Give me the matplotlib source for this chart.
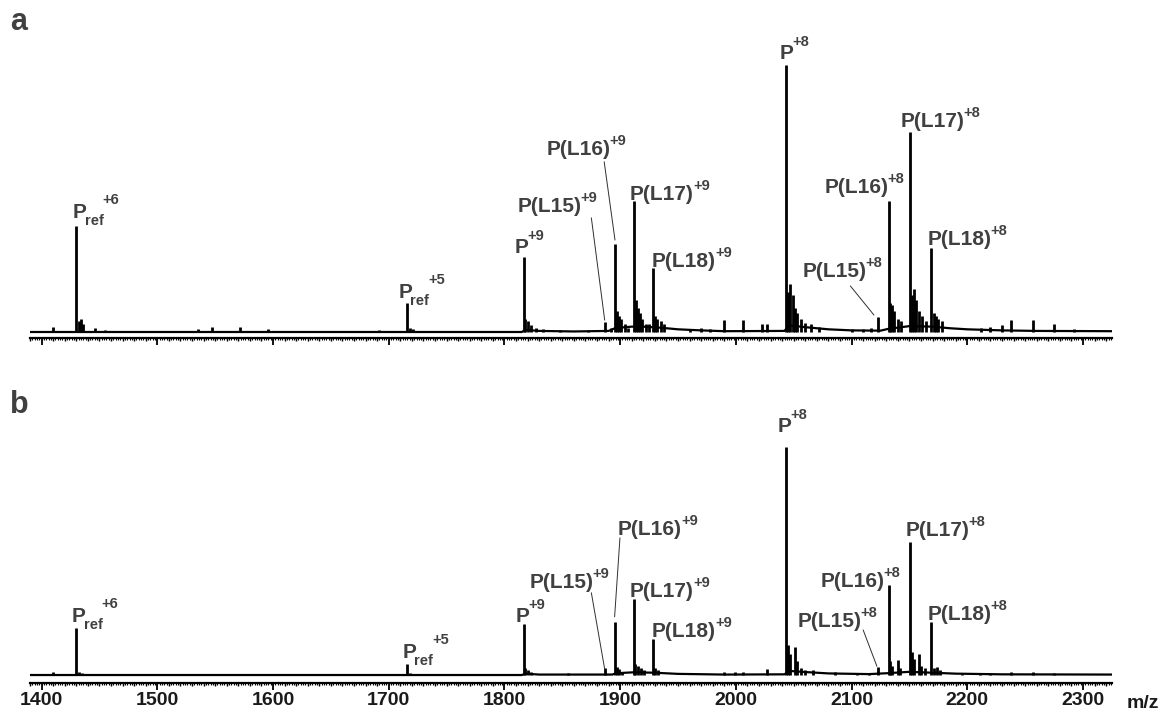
import numpy as np
import matplotlib.pyplot as plt
from matplotlib.ticker import MultipleLocator

plt.rcParams['font.family'] = ['Liberation Sans', 'DejaVu Sans']
plt.rcParams['font.weight'] = 'bold'

# --- panel a: peak list (m/z, relative intensity %) ---
a_mz = [1409.8, 1429.7, 1432, 1434, 1436, 1446, 1455, 1535, 1547.6, 1571.8, 1596, 1692,
        1715.4, 1718, 1721,
        1816.7, 1818, 1820, 1823, 1827, 1833, 1848, 1872,
        1887.1, 1892, 1895.2, 1897, 1899, 1901, 1904, 1907,
        1911.7, 1913.5, 1915, 1917, 1919, 1922, 1924.5,
        1928.1, 1930, 1932, 1935, 1938, 1960, 1970, 1978, 1989.6, 2006, 2022.5, 2027,
        2043.3, 2045, 2047, 2049, 2051, 2053, 2056, 2060, 2065, 2072, 2100, 2110, 2117,
        2122.9, 2131.9, 2133.5, 2135, 2137, 2140, 2143,
        2150.3, 2152, 2154, 2156, 2158, 2161, 2164,
        2168.8, 2171, 2173, 2175, 2178,
        2211.6, 2220, 2229.6, 2238, 2257, 2275, 2292]
a_int = [2.0, 39.7, 4.0, 5.0, 3.0, 1.5, 0.8, 1.2, 2.0, 2.0, 1.3, 0.8,
         10.9, 1.5, 1.2,
         28.1, 5.0, 4.0, 2.5, 1.5, 1.0, 0.6, 0.6,
         3.7, 1.5, 33.0, 8.0, 6.0, 5.0, 3.0, 1.5,
         49.0, 12.0, 9.0, 7.0, 5.0, 3.0, 3.0,
         24.0, 6.0, 5.0, 4.0, 3.0, 1.3, 1.5, 1.2, 4.5, 4.5, 3.0, 3.0,
         100.0, 15.0, 18.0, 14.0, 9.0, 7.0, 5.0, 3.5, 3.0, 2.0, 1.3, 1.3, 1.5,
         5.6, 49.0, 11.0, 10.0, 8.0, 5.0, 4.0,
         75.0, 14.0, 16.0, 12.0, 8.0, 6.0, 4.0,
         31.5, 7.0, 6.0, 5.0, 4.0,
         1.5, 2.0, 2.5, 4.5, 4.5, 3.0, 1.0]
a_base_mz = [1390, 1815, 1818, 1830, 1860, 1890, 1896, 1910, 1920, 1935, 1950, 1970,
             1990, 2042, 2046, 2060, 2080, 2100, 2125, 2132, 2150, 2170, 2185, 2200,
             2230, 2260, 2325]
a_base = [0, 0, 0.8, 0.4, 0.2, 0.4, 1.5, 2.0, 2.0, 1.6, 1.0, 0.6,
          0.3, 0.4, 2.5, 1.8, 1.0, 0.6, 0.5, 1.2, 2.2, 2.0, 1.4, 1.0,
          0.6, 0.4, 0.3]

# --- panel b ---
b_mz = [1409.8, 1429.7, 1432, 1435, 1490, 1548, 1572, 1596, 1637, 1692,
        1715.4, 1718,
        1816.7, 1818, 1820, 1823, 1855,
        1887.1, 1895.2, 1897, 1899, 1902,
        1911.7, 1913, 1915, 1918, 1921,
        1928.1, 1930, 1933, 1990, 1999, 2006, 2027,
        2043.3, 2045, 2047, 2050.7, 2053, 2056, 2060, 2067, 2086, 2105, 2115,
        2122.9, 2131.9, 2133.5, 2135, 2139.7, 2142,
        2150.3, 2152, 2154, 2157.8, 2160, 2163,
        2168.8, 2171, 2173.5, 2176,
        2195, 2211, 2220, 2238, 2257, 2275]
b_int = [1.5, 20.6, 1.5, 1.0, 0.5, 0.6, 0.6, 0.5, 0.5, 0.6,
         4.8, 0.8,
         22.4, 3.0, 2.0, 1.2, 1.0,
         3.0, 23.2, 3.5, 2.5, 1.5,
         33.3, 5.0, 4.0, 3.0, 2.0,
         15.8, 3.0, 2.0, 1.2, 1.2, 1.2, 2.5,
         100.0, 13.0, 9.0, 12.3, 6.0, 3.0, 2.0, 2.0, 1.5, 0.7, 0.8,
         3.5, 39.5, 6.0, 4.0, 6.6, 3.0,
         58.3, 10.0, 7.0, 9.2, 4.0, 3.0,
         23.2, 3.0, 3.5, 2.0,
         0.5, 0.5, 0.5, 1.2, 1.2, 0.8]
b_base_mz = [1390, 1815, 1818, 1830, 1893, 1897, 1912, 1930, 1950, 1990, 2042, 2046, 2060,
             2080, 2115, 2131, 2150, 2170, 2190, 2230, 2325]
b_base = [0, 0, 0.6, 0.2, 0.2, 0.8, 1.2, 1.0, 0.5, 0.2, 0.3, 1.8, 1.3,
          0.7, 0.4, 0.8, 1.4, 1.0, 0.6, 0.3, 0.2]

# --- peak labels: main text, subscript, superscript, position of text baseline (m/z, %) ---
lab_main = ['P', 'P', 'P', 'P(L15)', 'P(L16)', 'P(L17)', 'P(L18)', 'P',
            'P(L15)', 'P(L16)', 'P(L17)', 'P(L18)']
lab_sub = ['ref', 'ref', '', '', '', '', '', '', '', '', '', '']
lab_sup = ['+6', '+5', '+9', '+9', '+9', '+9', '+9', '+8', '+8', '+8', '+8', '+8']
a_lab_x = [1427.1, 1708.5, 1808.9, 1811.5, 1836.6, 1908.5, 1927.5, 2037.5, 2057.4, 2076.5, 2142.3, 2165.7]
a_lab_y = [42.7, 12.7, 29.6, 44.9, 66.3, 49.4, 24.3, 102.2, 20.6, 52.1, 76.8, 32.6]
b_lab_x = [1426.2, 1712.0, 1809.8, 1821.9, 1898.1, 1908.5, 1927.5, 2035.7, 2053.1, 2073.0, 2146.6, 2165.7]
b_lab_y = [23.2, 7.5, 23.4, 38.2, 61.4, 34.2, 16.7, 106.7, 21.2, 38.7, 61.1, 24.1]

# leader lines: (x0, x1), (y0, y1)
a_lead_x = [(1875.1, 1886.6), (1886.2, 1895.5), (2099.0, 2119.2)]
a_lead_y = [(42.7, 4.5), (63.7, 34.5), (17.2, 6.4)]
b_lead_x = [(1875.1, 1886.6), (1899.8, 1895.2), (2110.0, 2121.8)]
b_lead_y = [(36.0, 2.6), (60.1, 25.6), (19.7, 3.9)]

ticks_major = [1400, 1500, 1600, 1700, 1800, 1900, 2000, 2100, 2200, 2300]

label_color = '#404040'

W, H = 1169, 719
fig = plt.figure(figsize=(W / 100, H / 100), dpi=100)
ax_a = fig.add_axes([30 / W, (H - 338) / H, 1082 / W, 308 / H])
ax_b = fig.add_axes([30 / W, 36 / H, 1082 / W, 283 / H])
renderer = fig.canvas.get_renderer()


def put_label(ax, x, y, main, sub, sup):
    t = ax.text(x, y, main, fontsize=15, color=label_color, ha='left', va='baseline')
    w = t.get_window_extent(renderer).width - 1
    up = 10
    if sub:
        s = ax.annotate(sub, (x, y), xytext=(w - 1, -7), textcoords='offset pixels',
                        fontsize=10.5, color=label_color, va='baseline')
        w += s.get_window_extent(renderer).width - 2
        up = 14
    elif main == 'P':
        up = 13
    ax.annotate(sup, (x, y), xytext=(w, up), textcoords='offset pixels',
                fontsize=10.5, color=label_color, va='baseline')


def draw_panel(ax, mz, inten, base_mz, base, lx, ly, lead_x, lead_y, ylim, show_labels):
    ax.set_xlim(1390, 2325)
    ax.set_ylim(*ylim)
    ax.vlines(mz, 0, inten, color='black', linewidth=2.0)
    ax.plot(base_mz, base, color='black', linewidth=1.6, solid_joinstyle='round')
    for main, sub, sup, x, y in zip(lab_main, lab_sub, lab_sup, lx, ly):
        put_label(ax, x, y, main, sub, sup)
    for xs, ys in zip(lead_x, lead_y):
        ax.plot(xs, ys, color='#303030', linewidth=0.7)
    for s in ['left', 'right', 'top']:
        ax.spines[s].set_visible(False)
    ax.spines['bottom'].set_linewidth(1.6)
    ax.set_yticks([])
    ax.set_xticks(ticks_major)
    ax.xaxis.set_minor_locator(MultipleLocator(10))
    ax.tick_params(axis='x', which='major', length=5, width=1.3, pad=1.5,
                   labelsize=14, labelcolor='#1a1a1a', labelbottom=show_labels)
    ax.tick_params(axis='x', which='minor', length=2.5, width=1.0)
    fine = ax.secondary_xaxis('bottom')
    fine.spines['bottom'].set_visible(False)
    fine.set_xticks([])
    fine.xaxis.set_minor_locator(MultipleLocator(2))
    fine.tick_params(axis='x', which='minor', length=1.3, width=0.8)


draw_panel(ax_a, a_mz, a_int, a_base_mz, a_base, a_lab_x, a_lab_y,
           a_lead_x, a_lead_y, (-2.25, 113.1), False)
draw_panel(ax_b, b_mz, b_int, b_base_mz, b_base, b_lab_x, b_lab_y,
           b_lead_x, b_lead_y, (-3.5, 120.6), True)

fig.text(1127 / W, (H - 703) / H, 'm/z', fontsize=14, color='#1a1a1a', va='center', ha='left')
fig.text(10 / W, (H - 30) / H, 'a', fontsize=22, color=label_color, va='baseline', ha='left')
fig.text(10 / W, (H - 413) / H, 'b', fontsize=22, color=label_color, va='baseline', ha='left')

fig.savefig('out.png', dpi=100)
